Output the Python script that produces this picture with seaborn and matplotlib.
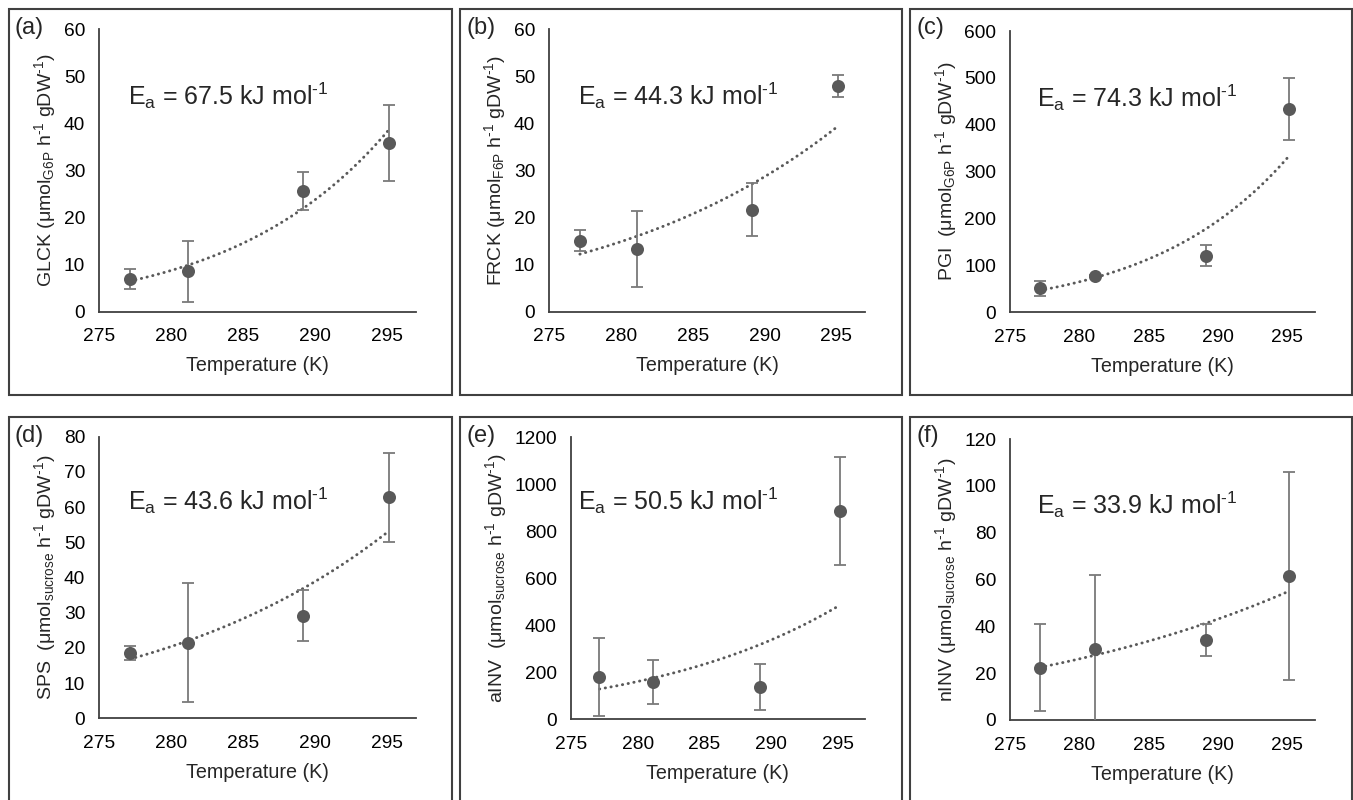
import numpy as np
import pandas as pd
import matplotlib
matplotlib.use("Agg")
import matplotlib.pyplot as plt
from matplotlib.patches import Rectangle
import seaborn as sns

# Assay temperatures (K)
temperature = [277.15, 281.15, 289.15, 295.15]

# Enzyme activities (mean, standard deviation) per temperature
glck_mean = [6.9, 8.6, 25.6, 35.8]
glck_sd = [2.1, 6.5, 4.0, 8.1]
frck_mean = [15.1, 13.4, 21.7, 48.0]
frck_sd = [2.2, 8.1, 5.6, 2.3]
pgi_mean = [51.0, 77.4, 120.7, 432.9]
pgi_sd = [16.0, 3.0, 22.0, 66.0]
sps_mean = [18.5, 21.4, 29.2, 62.8]
sps_sd = [1.9, 16.9, 7.3, 12.7]
ainv_mean = [179.0, 159.0, 136.0, 886.0]
ainv_sd = [167.0, 93.0, 98.0, 230.0]
ninv_mean = [22.3, 30.2, 34.2, 61.5]
ninv_sd = [18.6, 31.9, 7.0, 44.4]

# Activation energies (kJ/mol)
ea_values = [67.5, 44.3, 74.3, 43.6, 50.5, 33.9]

panel_tags = ["(a)", "(b)", "(c)", "(d)", "(e)", "(f)"]
enzyme_names = ["GLCK", "FRCK", "PGI ", "SPS ", "aINV ", "nINV"]
substrates = ["G6P", "F6P", "G6P", "sucrose", "sucrose", "sucrose"]
y_limits = [60, 60, 600, 80, 1200, 120]
y_steps = [10, 10, 100, 10, 200, 20]
x_ticks = [275, 280, 285, 290, 295]

means = [glck_mean, frck_mean, pgi_mean, sps_mean, ainv_mean, ninv_mean]
sds = [glck_sd, frck_sd, pgi_sd, sps_sd, ainv_sd, ninv_sd]

R = 8.314e-3  # kJ mol-1 K-1
HY = "\u2010"  # hyphen used in the unit exponents

sns.set_theme(style="white")
plt.rcParams["font.family"] = ["Liberation Sans", "DejaVu Sans"]
plt.rcParams["mathtext.fontset"] = "custom"
plt.rcParams["mathtext.rm"] = "Liberation Sans"
plt.rcParams["mathtext.it"] = "Liberation Sans"

W, H = 1353, 800
fig = plt.figure(figsize=(W / 100, H / 100), dpi=100)

# axes rectangles in pixels: left, right, y of zero, y of top
axes_px = [
    (99, 416, 311.7, 29.3),
    (549, 865, 311.7, 29.3),
    (1010, 1315, 312.3, 31.0),
    (99, 416, 718.3, 436.7),
    (570.7, 865, 719.0, 437.3),
    (1010, 1315, 720.0, 439.0),
]
# panel frames in pixels: left, top, right, bottom
frames_px = [
    (9, 9, 452, 395),
    (460, 9, 902, 395),
    (910, 9, 1352, 395),
    (9, 417, 452, 820),
    (460, 417, 902, 820),
    (910, 417, 1352, 820),
]
text_pos = [(0.09, 0.732), (0.091, 0.732), (0.0875, 0.73),
            (0.09, 0.74), (0.024, 0.742), (0.0875, 0.735)]

dark = "#595959"
axis_col = "#404040"

for i in range(6):
    l, r, y0, y1 = axes_px[i]
    ax = fig.add_axes([l / W, 1 - y0 / H, (r - l) / W, (y0 - y1) / H])
    T = np.array(temperature)
    k = np.array(means[i])
    df = pd.DataFrame({"T": T, "k": k})

    # Arrhenius trend with the stated activation energy
    ln_a = np.mean(np.log(k) + ea_values[i] / (R * T))
    t_fit = np.linspace(T.min(), T.max(), 200)
    fit = pd.DataFrame({"T": t_fit, "k": np.exp(ln_a - ea_values[i] / (R * t_fit))})
    sns.lineplot(data=fit, x="T", y="k", ax=ax, color=dark, lw=2.1,
                 linestyle=(0, (0.1, 1.9)), dash_capstyle="round", zorder=2)

    ax.errorbar(T, k, yerr=sds[i], fmt="none", ecolor="#7a7a7a",
                elinewidth=1.3, capsize=4.5, capthick=1.3, zorder=3)
    sns.scatterplot(data=df, x="T", y="k", ax=ax, color=dark, s=88,
                    edgecolor=dark, linewidth=0, zorder=4)

    ax.set_xlim(275, 297)
    ax.set_ylim(0, y_limits[i])
    ax.set_xticks(x_ticks)
    ax.set_yticks(np.arange(0, y_limits[i] + 1, y_steps[i]))
    ax.tick_params(length=0, labelsize=13.8, colors="black", pad=10)
    ax.tick_params(axis="x", pad=12)
    for s in ["top", "right"]:
        ax.spines[s].set_visible(False)
    for s in ["left", "bottom"]:
        ax.spines[s].set_color(axis_col)
        ax.spines[s].set_linewidth(1.3)
    ax.set_facecolor("none")

    ax.set_xlabel("Temperature (K)", fontsize=14.2, labelpad=8)
    ylabel = (enzyme_names[i] + r" ($\mathregular{\mu}$mol$_{\mathregular{" + substrates[i] +
              r"}}$ h$^{\mathregular{" + HY + r"1}}$ gDW$^{\mathregular{" + HY + r"1}}$)")
    ax.set_ylabel(ylabel, fontsize=14, labelpad=4)

    ax.text(text_pos[i][0], text_pos[i][1],
            r"E$_{\mathregular{a}}$ = " + f"{ea_values[i]:.1f}" +
            r" kJ mol$^{\mathregular{" + HY + r"1}}$",
            transform=ax.transAxes, fontsize=18, va="baseline", ha="left")

    fl, ft, fr, fb = frames_px[i]
    fig.patches.append(Rectangle((fl / W, 1 - fb / H), (fr - fl) / W, (fb - ft) / H,
                                 transform=fig.transFigure, fill=False,
                                 edgecolor=axis_col, linewidth=1.5, zorder=0))
    fig.text((fl + 6) / W, 1 - (ft + 19) / H, panel_tags[i], fontsize=17,
             va="center", ha="left")

fig.savefig("out.png", dpi=100, facecolor="white")
